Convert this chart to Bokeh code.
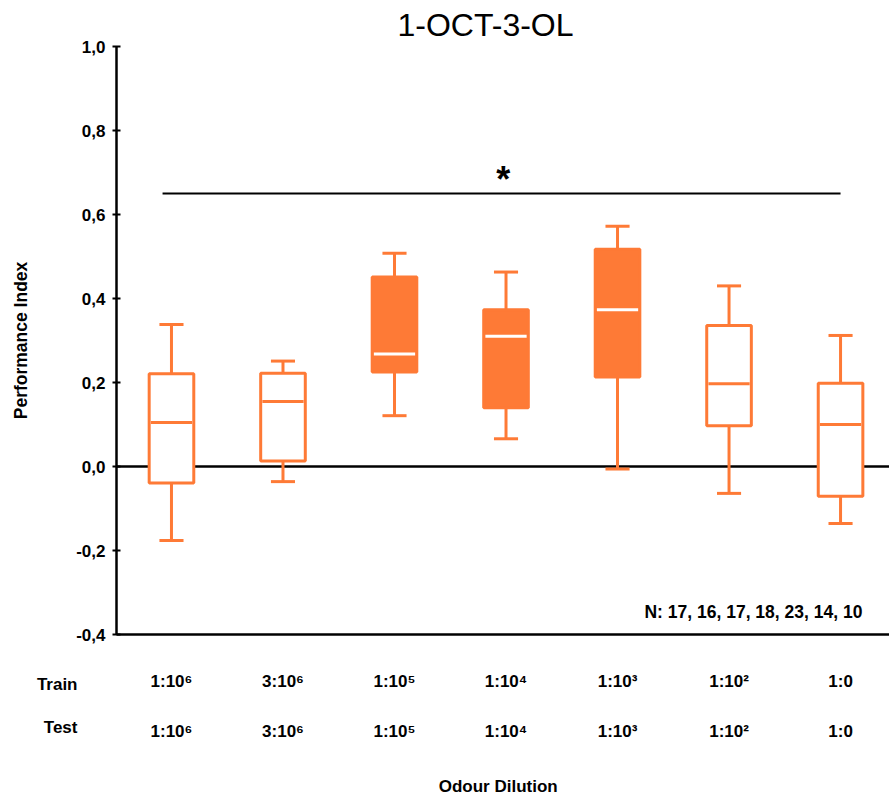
from bokeh.plotting import figure
from bokeh.models import Span, FixedTicker, Range1d, LinearAxis
from bokeh.layouts import column
from bokeh.core.properties import value
from bokeh.embed import file_html
from bokeh.resources import INLINE

# ---------------- data ----------------
title_text = "1-OCT-3-OL"
positions = [1, 2, 3, 4, 5, 6, 7]
train_labels = ["1:10⁶", "3:10⁶", "1:10⁵", "1:10⁴", "1:10³", "1:10²", "1:0"]
test_labels = ["1:10⁶", "3:10⁶", "1:10⁵", "1:10⁴", "1:10³", "1:10²", "1:0"]
whisker_low = [-0.176, -0.036, 0.121, 0.066, -0.006, -0.064, -0.136]
q1 = [-0.039, 0.013, 0.225, 0.140, 0.213, 0.097, -0.071]
median = [0.105, 0.155, 0.268, 0.310, 0.373, 0.197, 0.100]
q3 = [0.221, 0.222, 0.451, 0.373, 0.517, 0.336, 0.198]
whisker_high = [0.338, 0.251, 0.508, 0.463, 0.572, 0.430, 0.312]
filled = [False, False, True, True, True, False, False]
n_text = "N: 17, 16, 17, 18, 23, 14, 10"
sig_from, sig_to, sig_level = 0.92, 7.0, 0.65
sig_mark = "*"
y_ticks = [-0.4, -0.2, 0.0, 0.2, 0.4, 0.6, 0.8, 1.0]
y_tick_labels = ["-0,4", "-0,2", "0,0", "0,2", "0,4", "0,6", "0,8", "1,0"]
row_names = ["Train", "Test"]
x_title = "Odour Dilution"
y_title = "Performance Index"

ORANGE = "#FE7A36"
FONT = "Liberation Sans"
X0, X1 = 0.507, 7.439

# ---------------- main plot ----------------
p = figure(width=889, height=652,
           x_range=Range1d(X0, X1), y_range=Range1d(-0.4, 1.0),
           output_backend="svg", toolbar_location=None,
           min_border_left=116, min_border_right=0,
           min_border_top=46, min_border_bottom=18)

p.background_fill_color = "white"
p.border_fill_color = "white"
p.outline_line_color = None
p.grid.visible = False

# title
p.title.text = title_text
p.title.text_font = FONT
p.title.text_font_style = "normal"
p.title.text_font_size = "32px"
p.title.text_color = "black"
p.title.align = "left"
p.title.offset = 281
p.title.vertical_align = "top"
p.title.standoff = 4

# y axis
p.yaxis.ticker = FixedTicker(ticks=y_ticks)
p.yaxis.major_label_overrides = {t: l for t, l in zip(y_ticks, y_tick_labels)}
p.yaxis.major_label_text_font = FONT
p.yaxis.major_label_text_font_style = "bold"
p.yaxis.major_label_text_font_size = "17px"
p.yaxis.major_label_text_color = "black"
p.yaxis.major_label_standoff = 7
p.yaxis.axis_line_width = 2.5
p.yaxis.axis_line_color = "black"
p.yaxis.major_tick_in = 4
p.yaxis.major_tick_out = 4
p.yaxis.major_tick_line_width = 2
p.yaxis.major_tick_line_color = "black"
p.yaxis.minor_tick_line_color = None

# y title carried by a bare extra axis
p.add_layout(LinearAxis(ticker=FixedTicker(ticks=[]),
                        axis_label=y_title, axis_line_color=None,
                        major_tick_line_color=None, minor_tick_line_color=None,
                        major_tick_in=0, major_tick_out=0, major_label_standoff=0,
                        axis_label_standoff=43, axis_label_text_font=FONT,
                        axis_label_text_font_style="bold",
                        axis_label_text_font_size="17.5px",
                        axis_label_text_color="black"), "left")

# x axis: line only
p.xaxis.ticker = FixedTicker(ticks=[])
p.xaxis.axis_line_width = 2.5
p.xaxis.axis_line_color = "black"
p.xaxis.major_tick_line_color = None
p.xaxis.minor_tick_line_color = None
p.xaxis.major_tick_in = 0
p.xaxis.major_tick_out = 0
p.xaxis.major_label_standoff = 0

# zero line
p.add_layout(Span(location=0, dimension="width", line_color="black",
                  line_width=2.5, level="underlay"))

# significance line + star
p.segment(x0=[sig_from], y0=[sig_level], x1=[sig_to], y1=[sig_level],
          line_color="black", line_width=2)
p.text(x=[3.975], y=[sig_level + 0.033], text=[sig_mark],
       text_font=value(FONT), text_font_style="bold", text_font_size="36px",
       text_align="center", text_baseline="alphabetic", text_color="black")

# whiskers
p.segment(x0=positions, y0=q3, x1=positions, y1=whisker_high,
          line_color=ORANGE, line_width=3)
p.segment(x0=positions, y0=whisker_low, x1=positions, y1=q1,
          line_color=ORANGE, line_width=3)
cap = 0.108
p.segment(x0=[x - cap for x in positions], y0=whisker_high,
          x1=[x + cap for x in positions], y1=whisker_high,
          line_color=ORANGE, line_width=3)
p.segment(x0=[x - cap for x in positions], y0=whisker_low,
          x1=[x + cap for x in positions], y1=whisker_low,
          line_color=ORANGE, line_width=3)

# boxes
bw = 0.40
fill_cols = [ORANGE if f else "white" for f in filled]
med_cols = ["white" if f else ORANGE for f in filled]
p.vbar(x=positions, bottom=q1, top=q3, width=bw,
       fill_color=fill_cols, line_color=ORANGE, line_width=3)
p.segment(x0=[x - bw / 2 + 0.015 for x in positions], y0=median,
          x1=[x + bw / 2 - 0.015 for x in positions], y1=median,
          line_color=med_cols, line_width=3)

# N text
p.text(x=[7.196], y=[-0.347], text=[n_text],
       text_font=value(FONT), text_font_style="bold", text_font_size="17.5px",
       text_align="right", text_baseline="middle", text_color="black")

# ---------------- label strip under the plot (same x scale) ----------------
# y coordinates of this strip are pixels from the top of the page
p2 = figure(width=889, height=146,
            x_range=p.x_range, y_range=Range1d(798, 652),
            output_backend="svg", toolbar_location=None,
            x_axis_location=None, y_axis_location="left",
            min_border_left=116, min_border_right=0,
            min_border_top=0, min_border_bottom=0)
p2.background_fill_color = "white"
p2.border_fill_color = "white"
p2.outline_line_color = None
p2.grid.visible = False

# row headings via the strip's own left axis
row_y = [684, 727]
p2.yaxis.ticker = FixedTicker(ticks=row_y)
p2.yaxis.major_label_overrides = {y: n for y, n in zip(row_y, row_names)}
p2.yaxis.axis_line_color = None
p2.yaxis.major_tick_line_color = None
p2.yaxis.minor_tick_line_color = None
p2.yaxis.major_tick_in = 0
p2.yaxis.major_tick_out = 0
p2.yaxis.major_label_standoff = 39
p2.yaxis.major_label_text_font = FONT
p2.yaxis.major_label_text_font_style = "bold"
p2.yaxis.major_label_text_font_size = "17px"
p2.yaxis.major_label_text_color = "black"

text_kw = dict(text_font=value(FONT), text_font_style="bold", text_color="black",
               text_baseline="middle")
p2.text(x=positions, y=[681] * len(positions), text=train_labels,
        text_font_size="17px", text_align="center", **text_kw)
p2.text(x=positions, y=[731] * len(positions), text=test_labels,
        text_font_size="17px", text_align="center", **text_kw)
p2.text(x=[3.93], y=[786], text=[x_title],
        text_font_size="17px", text_align="center", **text_kw)

layout = column(p, p2, spacing=0)
open("out.html", "w").write(file_html(layout, INLINE))
